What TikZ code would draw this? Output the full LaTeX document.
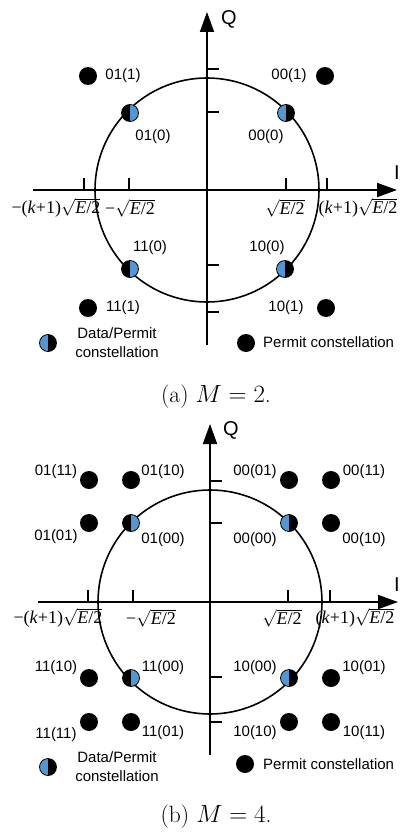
\documentclass[tikz,border=0pt]{standalone}
\usepackage{fontspec}
\newfontfamily\arialf{Liberation Sans}
\newfontfamily\tnrf{Liberation Serif}
\usetikzlibrary{arrows.meta}
\definecolor{dblue}{RGB}{84,150,210}
\newcommand{\sqE}{\ensuremath{\sqrt{\hbox{\tnrf\textit{E}/2}}}}
\newcommand{\negk}{{\tnrf\textminus(\textit{k}+1)}}
\newcommand{\posk}{{\tnrf(\textit{k}+1)}}
\newcommand{\negs}{{\tnrf\textminus}}
\tikzset{
  axline/.style={line width=1.8pt,-{Triangle[length=20pt,width=14pt]}},
  tk/.style={line width=1.8pt},
  ring/.style={line width=1.6pt},
  cdot/.style={circle,fill=black,minimum size=18pt,inner sep=0pt},
  hl/.style={circle,draw=black,line width=0.8pt,minimum size=17pt,inner sep=0pt,
    path picture={\fill[black] (path picture bounding box.south west) rectangle (path picture bounding box.north);
                  \fill[dblue] (path picture bounding box.south) rectangle (path picture bounding box.north east);}},
  hr/.style={circle,draw=black,line width=0.8pt,minimum size=17pt,inner sep=0pt,
    path picture={\fill[dblue] (path picture bounding box.south west) rectangle (path picture bounding box.north);
                  \fill[black] (path picture bounding box.south) rectangle (path picture bounding box.north east);}},
  lab/.style={font=\arialf\fontsize{15}{19}\selectfont,inner sep=0pt},
  mlab/.style={font=\fontsize{18}{20}\selectfont,inner sep=0pt},
  axl/.style={font=\arialf\fontsize{20}{22}\selectfont,inner sep=0pt},
  capt/.style={font=\fontsize{23.5}{26}\selectfont,inner sep=0pt},
}
\begin{document}
\begin{tikzpicture}[x=1pt,y=-1pt]
\useasboundingbox (0,0) rectangle (402,832);
% ---------------- panel (a) ----------------
\coordinate (oa) at (207,190);
\coordinate (qa0) at (207,345); \coordinate (qa1) at (207,12);
\coordinate (ia0) at (33,190);  \coordinate (ia1) at (397,190);
\draw[ring] (oa) circle[radius=112pt];
\draw[axline] (qa0) -- (qa1);
\draw[axline] (ia0) -- (ia1);
\foreach \x in {84,129,286,327} \draw[tk] (\x,190) -- (\x,178);
\foreach \y in {69,112,265,312} \draw[tk] (207,\y) -- (219,\y);
\node[axl] (Qa) at (229,19) {Q};
\node[axl] (Ia) at (397,173) {I};
\node[mlab] (ma1) at (56,208) {\negk\sqE};
\node[mlab] (ma2) at (130,208) {\negs\sqE};
\node[mlab] (ma3) at (285,208) {\sqE};
\node[mlab] (ma4) at (358,208) {\posk\sqE};
\node[hl] (a010) at (130,113) {};
\node[hr] (a000) at (286,113) {};
\node[hl] (a110) at (130,269) {};
\node[hr] (a100) at (285,269) {};
\node[cdot] (a011) at (88,76) {};
\node[cdot] (a001) at (325,76) {};
\node[cdot] (a111) at (88,308) {};
\node[cdot] (a101) at (326,308) {};
\node[lab] (la1) at (123,76) {01(1)};
\node[lab] (la2) at (289,76) {00(1)};
\node[lab] (la3) at (153,137) {01(0)};
\node[lab] (la4) at (266,137) {00(0)};
\node[lab] (la5) at (150,248) {11(0)};
\node[lab] (la6) at (267,248) {10(0)};
\node[lab] (la7) at (123,308) {11(1)};
\node[lab] (la8) at (286,308) {10(1)};
\node[hr] (lga1) at (48,343) {};
\node[lab,align=center] (lga2) at (117,343) {Data/Permit\\constellation};
\node[cdot] (lga3) at (246,343) {};
\node[lab,anchor=west] (lga4) at (263,342) {Permit constellation};
\node[capt] (capa) at (216,397) {(a) $M=2$.};
% ---------------- panel (b) ----------------
\coordinate (ob) at (210,602);
\coordinate (qb0) at (210,755); \coordinate (qb1) at (210,424);
\coordinate (ib0) at (38,602);  \coordinate (ib1) at (398,602);
\draw[ring] (ob) circle[radius=112pt];
\draw[axline] (qb0) -- (qb1);
\draw[axline] (ib0) -- (ib1);
\foreach \x in {88,133,288,330} \draw[tk] (\x,602) -- (\x,590);
\foreach \y in {481,523,677,722} \draw[tk] (210,\y) -- (222,\y);
\node[axl] (Qb) at (231,430) {Q};
\node[axl] (Ib) at (397,585) {I};
\node[mlab] (mb1) at (58,618) {\negk\sqE};
\node[mlab] (mb2) at (151,618) {\negs\sqE};
\node[mlab] (mb3) at (282,618) {\sqE};
\node[mlab] (mb4) at (355,618) {\posk\sqE};
\node[hl] (b0100) at (131,523) {};
\node[hr] (b0000) at (289,523) {};
\node[hl] (b1100) at (131,678) {};
\node[hr] (b1000) at (289,678) {};
\node[cdot] (b0111) at (89,480) {};
\node[cdot] (b0110) at (131,480) {};
\node[cdot] (b0001) at (289,480) {};
\node[cdot] (b0011) at (331,480) {};
\node[cdot] (b0101) at (89,523) {};
\node[cdot] (b0010) at (331,523) {};
\node[cdot] (b1110) at (89,678) {};
\node[cdot] (b1001) at (331,678) {};
\node[cdot] (b1111) at (89,722) {};
\node[cdot] (b1101) at (131,722) {};
\node[cdot] (b1010) at (289,722) {};
\node[cdot] (b1011) at (331,722) {};
\node[lab] (lb1) at (56,472) {01(11)};
\node[lab] (lb2) at (163,472) {01(10)};
\node[lab] (lb3) at (255,472) {00(01)};
\node[lab] (lb4) at (364,472) {00(11)};
\node[lab] (lb5) at (56,537) {01(01)};
\node[lab] (lb6) at (163,540) {01(00)};
\node[lab] (lb7) at (255,540) {00(00)};
\node[lab] (lb8) at (364,540) {00(10)};
\node[lab] (lb9) at (56,668) {11(10)};
\node[lab] (lb10) at (163,668) {11(00)};
\node[lab] (lb11) at (255,668) {10(00)};
\node[lab] (lb12) at (364,668) {10(01)};
\node[lab] (lb13) at (56,735) {11(11)};
\node[lab] (lb14) at (163,733) {11(01)};
\node[lab] (lb15) at (255,733) {10(10)};
\node[lab] (lb16) at (364,733) {10(11)};
\node[hr] (lgb1) at (48,767) {};
\node[lab,align=center] (lgb2) at (117,767) {Data/Permit\\constellation};
\node[cdot] (lgb3) at (245,764) {};
\node[lab,anchor=west] (lgb4) at (263,764) {Permit constellation};
\node[capt] (capb) at (216,817) {(b) $M=4$.};
\end{tikzpicture}
\end{document}
